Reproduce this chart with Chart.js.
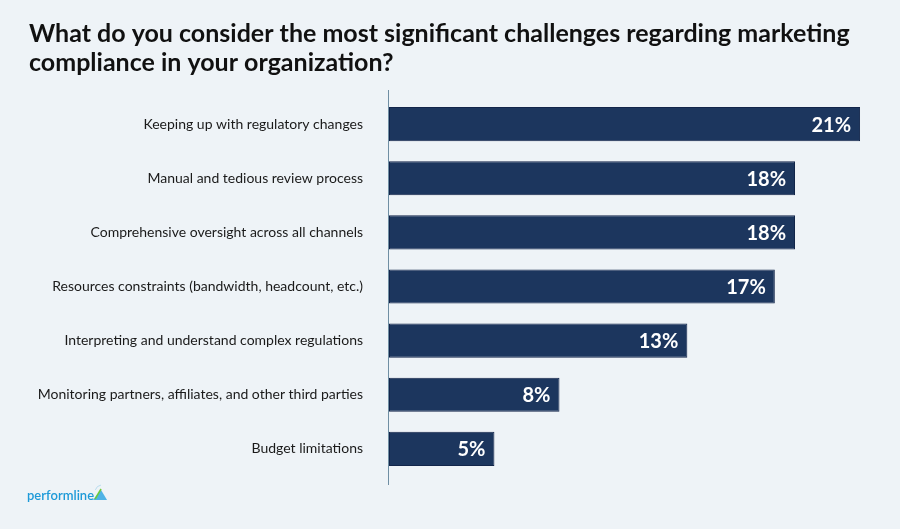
<!DOCTYPE html>
<html>
<head>
<meta charset="utf-8">
<script src="https://cdn.jsdelivr.net/npm/chart.js@4/dist/chart.umd.min.js"></script>
<style>
  html, body { margin: 0; padding: 0; background: #eef3f7; }
  #wrap { width: 900px; height: 529px; position: relative; }
</style>
</head>
<body>
<div id="wrap"><canvas id="c" width="900" height="529"></canvas></div>
<script>
const titleLines = [
  "What do you consider the most significant challenges regarding marketing",
  "compliance in your organization?"
];
const categories = [
  "Keeping up with regulatory changes",
  "Manual and tedious review process",
  "Comprehensive oversight across all channels",
  "Resources constraints (bandwidth, headcount, etc.)",
  "Interpreting and understand complex regulations",
  "Monitoring partners, affiliates, and other third parties",
  "Budget limitations"
];
const values = [21.0, 18.1, 18.1, 17.2, 13.3, 7.6, 4.7];
const valueLabels = ["21%", "18%", "18%", "17%", "13%", "8%", "5%"];
const brand = "performline";

const decor = {
  id: 'decor',
  beforeDraw(chart) {
    const ctx = chart.ctx;
    ctx.save();
    ctx.fillStyle = '#eef3f7';
    ctx.fillRect(0, 0, chart.width, chart.height);
    ctx.restore();
  },
  afterDraw(chart) {
    const ctx = chart.ctx;
    const area = chart.chartArea;
    const xs = chart.scales.x;
    ctx.save();
    // title
    ctx.fillStyle = '#111111';
    ctx.font = '700 25px Lato';
    ctx.textAlign = 'left';
    ctx.textBaseline = 'alphabetic';
    ctx.fillText(titleLines[0], 29, 42);
    ctx.fillText(titleLines[1], 29, 71);
    // axis line
    const x0 = Math.round(xs.getPixelForValue(0)) - 0.5;
    ctx.strokeStyle = '#6f8ea3';
    ctx.lineWidth = 1;
    ctx.beginPath();
    ctx.moveTo(x0, area.top - 7);
    ctx.lineTo(x0, area.bottom + 9);
    ctx.stroke();
    // value labels
    const meta = chart.getDatasetMeta(0);
    ctx.fillStyle = '#ffffff';
    ctx.font = '700 20px Lato';
    ctx.textAlign = 'right';
    ctx.textBaseline = 'middle';
    meta.data.forEach((bar, i) => {
      ctx.fillText(valueLabels[i], bar.x - 9, bar.y + 1);
    });
    // logo
    ctx.fillStyle = '#1e9ad8';
    ctx.font = '600 13px Lato';
    ctx.textAlign = 'left';
    ctx.textBaseline = 'alphabetic';
    ctx.fillText(brand, 27, 500);
    const lx = ctx.measureText(brand).width + 26;
    ctx.fillStyle = '#4fb3e6';
    ctx.beginPath();
    ctx.moveTo(lx, 500);
    ctx.lineTo(lx + 14, 500);
    ctx.lineTo(lx + 8, 490);
    ctx.closePath();
    ctx.fill();
    ctx.strokeStyle = '#6cc93a';
    ctx.lineWidth = 1.5;
    ctx.beginPath();
    ctx.moveTo(lx + 2, 499);
    ctx.lineTo(lx + 8, 489);
    ctx.stroke();
    ctx.strokeStyle = '#b9dcef';
    ctx.lineWidth = 1;
    ctx.beginPath();
    ctx.arc(lx + 9, 492, 7, Math.PI * 1.1, Math.PI * 1.45);
    ctx.stroke();
    ctx.restore();
  }
};

new Chart(document.getElementById('c'), {
  type: 'bar',
  data: {
    labels: categories,
    datasets: [{
      data: values,
      backgroundColor: '#1c365e',
      borderColor: '#12254a',
      borderWidth: 1,
      borderSkipped: false,
      categoryPercentage: 1.0,
      barPercentage: 0.63
    }]
  },
  options: {
    indexAxis: 'y',
    responsive: false,
    animation: false,
    devicePixelRatio: 1,
    layout: { padding: { top: 97, left: 30, right: 17.5, bottom: 53 } },
    plugins: { legend: { display: false }, tooltip: { enabled: false }, title: { display: false } },
    scales: {
      x: {
        display: false,
        min: 0,
        max: 22
      },
      y: {
        grid: { display: false, drawTicks: false },
        border: { display: false },
        ticks: {
          color: '#1a1a1a',
          font: { family: 'Lato', size: 14 },
          padding: 26,
          crossAlign: 'near'
        },
        afterFit(scale) { scale.width = 359; }
      }
    }
  },
  plugins: [decor]
});
</script>
</body>
</html>
